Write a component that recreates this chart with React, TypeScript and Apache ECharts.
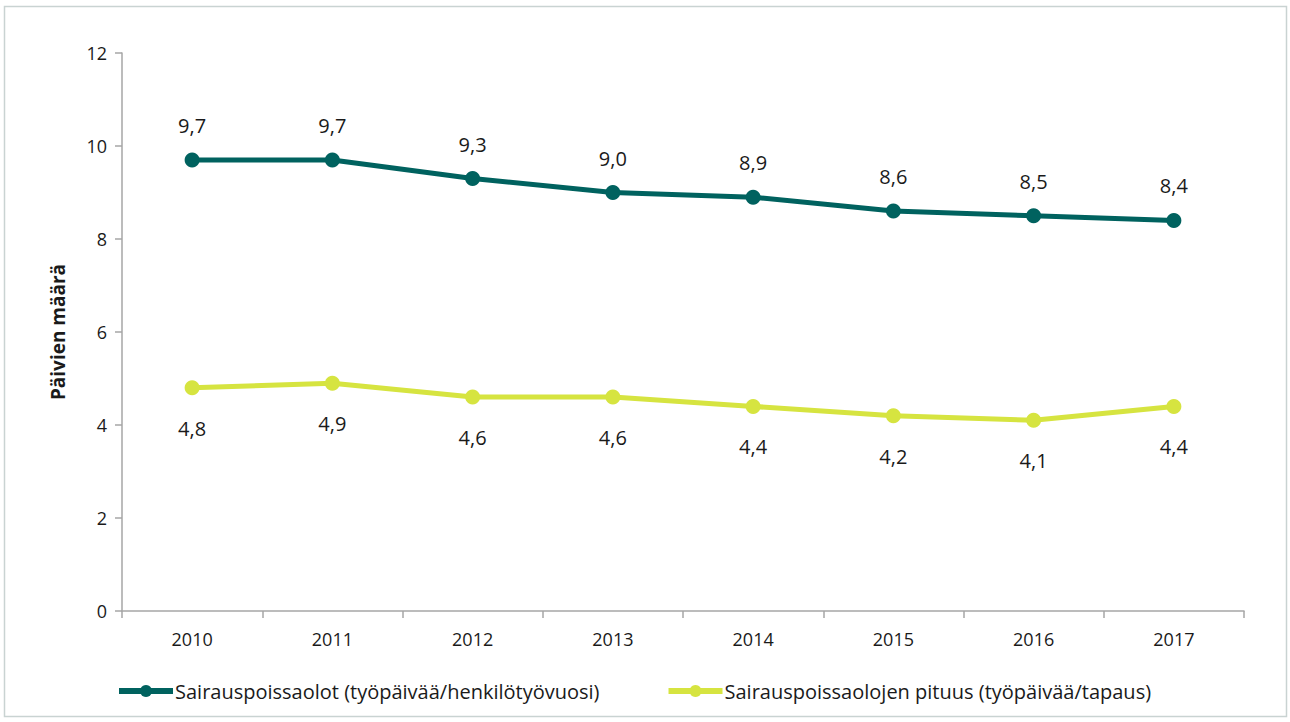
import React, { useEffect, useRef } from "react";
import * as echarts from "echarts";

const years = ["2010", "2011", "2012", "2013", "2014", "2015", "2016", "2017"];
const absences = [9.7, 9.7, 9.3, 9.0, 8.9, 8.6, 8.5, 8.4];
const duration = [4.8, 4.9, 4.6, 4.6, 4.4, 4.2, 4.1, 4.4];
const seriesNames = [
  "Sairauspoissaolot (työpäivää/henkilötyövuosi)",
  "Sairauspoissaolojen pituus (työpäivää/tapaus)",
];
const yAxisName = "Päivien määrä";

const FONT = "'Open Sans', 'Noto Sans', sans-serif";
const TEAL = "#00625f";
const LIME = "#d6e440";

const fmt = (p: any) => Number(p.value).toFixed(1).replace(".", ",");

export default function App() {
  const ref = useRef<HTMLDivElement>(null);
  useEffect(() => {
    const chart = echarts.init(ref.current!, null, { renderer: "svg" });
    chart.setOption({
      animation: false,
      backgroundColor: "#ffffff",
      textStyle: { fontFamily: FONT },
      graphic: [
        {
          type: "rect",
          shape: { x: 4.5, y: 6.5, width: 1282, height: 710 },
          style: { fill: "none", stroke: "#c9d3d2", lineWidth: 1.5 },
          silent: true,
        },
      ],
      grid: { left: 122, right: 46, top: 53, bottom: 111, containLabel: false },
      legend: {
        left: 111,
        top: 676,
        itemWidth: 54,
        itemHeight: 15,
        itemGap: 66,
        lineStyle: { width: 6 },
        textStyle: { fontFamily: FONT, fontSize: 20, color: "#1a1a1a", padding: [0, 0, 0, -3] },
        data: seriesNames,
      },
      xAxis: {
        type: "category",
        data: years,
        boundaryGap: true,
        axisLine: { lineStyle: { color: "#a6a6a6", width: 1.5 } },
        axisTick: { show: true, length: 7, lineStyle: { color: "#a6a6a6", width: 1.5 } },
        axisLabel: { color: "#1a1a1a", fontSize: 18, margin: 19, fontFamily: FONT },
      },
      yAxis: {
        type: "value",
        min: 0,
        max: 12,
        interval: 2,
        name: yAxisName,
        nameLocation: "middle",
        nameGap: 55,
        nameTextStyle: { fontWeight: "bold", fontSize: 19, color: "#1a1a1a", fontFamily: FONT },
        axisLine: { show: true, lineStyle: { color: "#a6a6a6", width: 1.5 } },
        axisTick: { show: true, length: 7, lineStyle: { color: "#a6a6a6", width: 1.5 } },
        splitLine: { show: false },
        axisLabel: { color: "#1a1a1a", fontSize: 18, margin: 15, fontFamily: FONT },
      },
      series: [
        {
          name: seriesNames[0],
          type: "line",
          data: absences,
          symbol: "circle",
          symbolSize: 15,
          lineStyle: { color: TEAL, width: 5 },
          itemStyle: { color: TEAL },
          label: {
            show: true,
            position: "top",
            distance: 17,
            formatter: fmt,
            fontSize: 20,
            color: "#1a1a1a",
            fontFamily: FONT,
          },
        },
        {
          name: seriesNames[1],
          type: "line",
          data: duration,
          symbol: "circle",
          symbolSize: 15,
          lineStyle: { color: LIME, width: 5 },
          itemStyle: { color: LIME },
          label: {
            show: true,
            position: "bottom",
            distance: 23,
            formatter: fmt,
            fontSize: 20,
            color: "#1a1a1a",
            fontFamily: FONT,
          },
        },
      ],
    });
    return () => chart.dispose();
  }, []);
  return (
    <div
      ref={ref}
      style={{ position: "fixed", left: 0, top: 0, width: 1290, height: 722 }}
    />
  );
}
